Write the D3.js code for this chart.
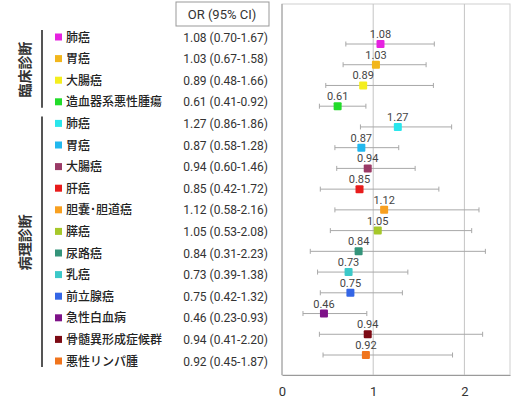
<!DOCTYPE html>
<html>
<head>
<meta charset="utf-8">
<script src="https://cdn.jsdelivr.net/npm/d3@7"></script>
<style>
  body { margin: 0; background: #fff; }
  svg { display: block; }
</style>
</head>
<body>
<svg id="chart" width="513" height="401"></svg>
<script>
// data
var names = ['肺癌', '胃癌', '大腸癌', '造血器系悪性腫瘍',
  '肺癌', '胃癌', '大腸癌', '肝癌', '胆嚢･胆道癌', '膵癌', '尿路癌', '乳癌',
  '前立腺癌', '急性白血病', '骨髄異形成症候群', '悪性リンパ腫']
var or = [1.08, 1.03, 0.89, 0.61, 1.27, 0.87, 0.94, 0.85, 1.12, 1.05, 0.84, 0.73, 0.75, 0.46, 0.94, 0.92]
var lower = [0.70, 0.67, 0.48, 0.41, 0.86, 0.58, 0.60, 0.42, 0.58, 0.53, 0.31, 0.39, 0.42, 0.23, 0.41, 0.45]
var upper = [1.67, 1.58, 1.66, 0.92, 1.86, 1.28, 1.46, 1.72, 2.16, 2.08, 2.23, 1.38, 1.32, 0.93, 2.20, 1.87]
var colors = ['#e622e0', '#f2b61c', '#f4ee1e', '#22dc2a', '#2ae6ec', '#22b8ee', '#9a3a66', '#e81c1c',
  '#f8a020', '#a6c82a', '#34947a', '#3cc8c8', '#3466e6', '#7e1288', '#7c0a14', '#f0741c']
var groups = [
  { label: '臨床診断', from: 0, to: 3 },
  { label: '病理診断', from: 4, to: 15 }
]
var xTicks = [0, 1, 2]

var svg = d3.select('#chart')
var idx = d3.range(names.length)

// plot area
var plot = { left: 282, right: 510, top: 4, bottom: 375 }

var xScale = d3.scaleLinear().domain([0, 2.5]).range([plot.left, plot.right])
// markers and table rows are not quite on the same spacing in the original
var yPlot = d3.scaleLinear().domain([0, 15]).range([44, 355])
var yTable = d3.scaleLinear().domain([0, 15]).range([37, 361])

// box
svg.append('rect')
  .attr('x', plot.left)
  .attr('y', plot.top)
  .attr('width', plot.right - plot.left)
  .attr('height', plot.bottom - plot.top)
  .attr('fill', 'none')
  .attr('stroke', '#cfcfcf')

// grid lines at 1 and 2
svg.selectAll('.grid')
  .data(xTicks.slice(1))
  .enter()
  .append('line')
  .attr('class', 'grid')
  .attr('x1', d => xScale(d))
  .attr('x2', d => xScale(d))
  .attr('y1', plot.top)
  .attr('y2', plot.bottom)
  .attr('stroke', '#c4c4c4')

// darker left and bottom edge
svg.append('line')
  .attr('x1', plot.left).attr('x2', plot.left)
  .attr('y1', plot.top).attr('y2', plot.bottom)
  .attr('stroke', '#9a9a9a')

var xAxis = d3.axisBottom(xScale)
  .tickValues(xTicks)
  .tickFormat(d3.format('d'))
  .tickSize(0)
  .tickPadding(12)
svg.append('g')
  .attr('class', 'x-axis')
  .attr('transform', 'translate(0,' + plot.bottom + ')')
  .call(xAxis)
  .call(g => g.select('.domain').attr('stroke', '#9a9a9a'))
  .selectAll('text')
  .attr('font-family', 'Roboto, sans-serif')
  .attr('font-size', 13)
  .attr('fill', '#333')

// CI whiskers
var rows = svg.selectAll('.row')
  .data(idx)
  .enter()
  .append('g')
  .attr('class', 'row')

rows.append('line')
  .attr('x1', i => xScale(lower[i]))
  .attr('x2', i => xScale(upper[i]))
  .attr('y1', i => yPlot(i))
  .attr('y2', i => yPlot(i))
  .attr('stroke', '#a8a8a8')

rows.append('line')
  .attr('x1', i => xScale(lower[i]))
  .attr('x2', i => xScale(lower[i]))
  .attr('y1', i => yPlot(i) - 2.5)
  .attr('y2', i => yPlot(i) + 2.5)
  .attr('stroke', '#a8a8a8')

rows.append('line')
  .attr('x1', i => xScale(upper[i]))
  .attr('x2', i => xScale(upper[i]))
  .attr('y1', i => yPlot(i) - 2.5)
  .attr('y2', i => yPlot(i) + 2.5)
  .attr('stroke', '#a8a8a8')

rows.append('rect')
  .attr('x', i => xScale(or[i]) - 4)
  .attr('y', i => yPlot(i) - 4)
  .attr('width', 8)
  .attr('height', 8)
  .attr('rx', 1)
  .attr('fill', i => colors[i])

rows.append('text')
  .attr('x', i => xScale(or[i]))
  .attr('y', i => yPlot(i) - 6)
  .attr('text-anchor', 'middle')
  .attr('font-family', 'Roboto, sans-serif')
  .attr('font-size', 11)
  .attr('fill', '#444')
  .text(i => or[i].toFixed(2))

// table on the left
svg.append('rect')
  .attr('x', 176)
  .attr('y', 2)
  .attr('width', 93)
  .attr('height', 24)
  .attr('fill', 'none')
  .attr('stroke', '#999')

svg.append('text')
  .attr('x', 222)
  .attr('y', 19)
  .attr('text-anchor', 'middle')
  .attr('font-family', 'Roboto, sans-serif')
  .attr('font-size', 13)
  .attr('fill', '#333')
  .text('OR (95% CI)')

var table = svg.selectAll('.trow')
  .data(idx)
  .enter()
  .append('g')
  .attr('class', 'trow')

table.append('rect')
  .attr('x', 55)
  .attr('y', i => yTable(i) - 3.5)
  .attr('width', 7)
  .attr('height', 7)
  .attr('fill', i => colors[i])

table.append('text')
  .attr('x', 66)
  .attr('y', i => yTable(i) + 4.5)
  .attr('font-family', '"Noto Sans CJK JP", sans-serif')
  .attr('font-size', 12)
  .attr('font-weight', 500)
  .attr('fill', '#222')
  .text(i => names[i])

table.append('text')
  .attr('x', 268)
  .attr('y', i => yTable(i) + 4.5)
  .attr('text-anchor', 'end')
  .attr('font-family', 'Roboto, sans-serif')
  .attr('font-size', 12)
  .attr('fill', '#333')
  .text(i => or[i].toFixed(2) + ' (' + lower[i].toFixed(2) + '-' + upper[i].toFixed(2) + ')')

// group brackets
svg.selectAll('.gbar')
  .data(groups)
  .enter()
  .append('line')
  .attr('class', 'gbar')
  .attr('x1', 42).attr('x2', 42)
  .attr('y1', d => yTable(d.from) - 7)
  .attr('y2', d => yTable(d.to) + 6)
  .attr('stroke', '#555')
  .attr('stroke-width', 2)

svg.selectAll('.glabel')
  .data(groups)
  .enter()
  .append('text')
  .attr('class', 'glabel')
  .attr('transform', d => 'translate(30,' + (yTable(d.from) + yTable(d.to)) / 2 + ') rotate(-90)')
  .attr('text-anchor', 'middle')
  .attr('font-family', '"Noto Sans CJK JP", sans-serif')
  .attr('font-size', 14)
  .attr('font-weight', 'bold')
  .attr('fill', '#333')
  .text(d => d.label)
</script>
</body>
</html>
